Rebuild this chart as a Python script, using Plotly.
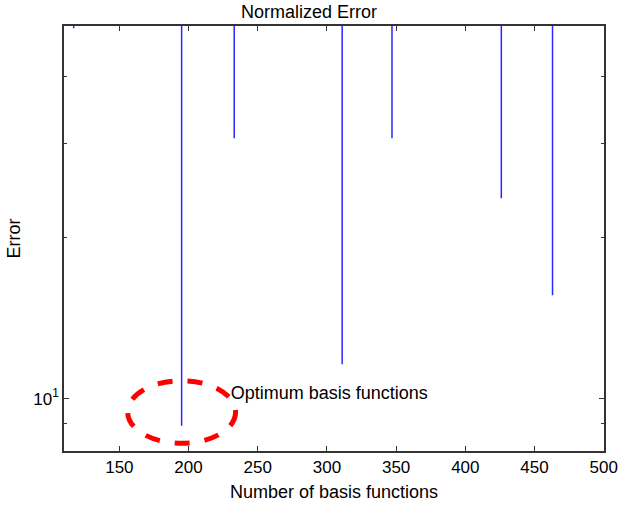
import plotly.graph_objects as go

# Sweep of the number of basis functions: the normalized error saturates
# far above the plotted range except at a few basis counts.
basis_functions = [117, 195, 233, 311, 347, 426, 463]
normalized_error = [49.3, 8.9, 30.7, 11.6, 30.7, 23.7, 15.6]
saturated_error = 1e3

x_ticks = [150, 200, 250, 300, 350, 400, 450, 500]
y_major = [10]
y_major_text = ["10<sup>1</sup>"]
y_minor = [9, 20, 30, 40]

optimum_label = "Optimum basis functions"
optimum_n = 195

xs, ys = [], []
for n, e in zip(basis_functions, normalized_error):
    xs += [n, n, n, None]
    ys += [saturated_error, e, saturated_error, None]

family = "Liberation Sans, Arial, sans-serif"
label_font = dict(family=family, size=18, color="#000000")
tick_font = dict(family=family, size=17, color="#000000")

fig = go.Figure()
fig.add_trace(go.Scatter(
    x=xs, y=ys, mode="lines",
    line=dict(color="#2a2aff", width=1.5),
    connectgaps=False, hoverinfo="skip", showlegend=False,
))

# annotation text beside the highlighted minimum
fig.add_trace(go.Scatter(
    x=[230.5], y=[10.2], mode="text", text=[optimum_label],
    textposition="middle right", textfont=label_font,
    hoverinfo="skip", showlegend=False, cliponaxis=False,
))

# dashed ellipse around the optimum
fig.add_shape(
    type="circle", xref="x", yref="y",
    x0=optimum_n - 39, x1=optimum_n + 39, y0=8.25, y1=10.8,
    line=dict(color="#ff0000", width=5, dash="dash"),
)

axis_common = dict(
    showline=True, linecolor="#333333", linewidth=1.5, mirror="allticks",
    ticks="inside", ticklen=5, tickwidth=1, tickcolor="#333333",
    showgrid=False, zeroline=False, tickfont=tick_font, automargin=False,
    ticklabeloverflow="allow",
)

fig.update_xaxes(
    range=[110, 500.2], tickvals=x_ticks,
    title=dict(text="Number of basis functions", font=label_font, standoff=9),
    **axis_common,
)
fig.update_yaxes(
    type="log", range=[0.902, 1.697],
    tickvals=y_major, ticktext=y_major_text,
    minor=dict(tickvals=y_minor, ticklen=3, ticks="inside", tickcolor="#333333", showgrid=False),
    title=dict(text="Error", font=label_font, standoff=8),
    **axis_common,
)

fig.update_layout(
    width=618, height=508,
    margin=dict(l=64, r=14, t=26, b=57),
    paper_bgcolor="white", plot_bgcolor="white",
    title=dict(text="Normalized Error", font=label_font, x=0.5, xanchor="center",
               y=1 - 12 / 508, yanchor="middle"),
)

fig.write_html("out.html")
